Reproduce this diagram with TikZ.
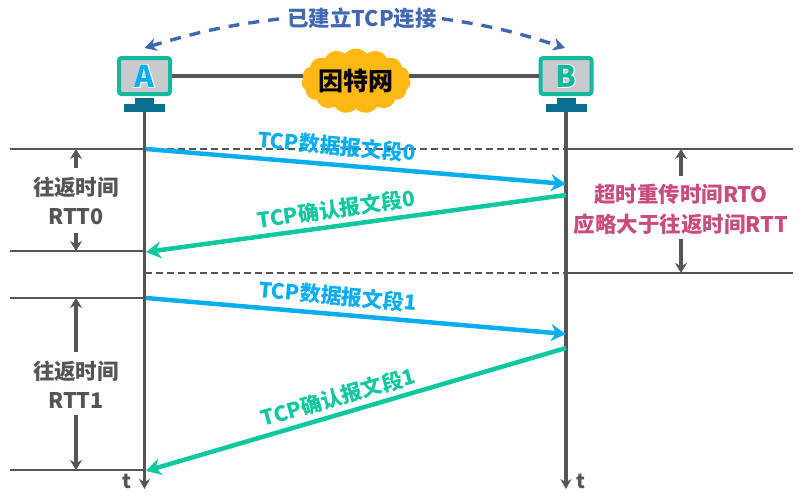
\documentclass[tikz,border=0pt]{standalone}
\usepackage{fontspec}
\setmainfont{Noto Sans CJK SC}
\newfontfamily\fatfont[FakeBold=5]{Noto Sans CJK SC}
\usetikzlibrary{arrows.meta,shapes.symbols}
\definecolor{tealhost}{HTML}{14B89C}
\definecolor{standblue}{HTML}{0B6E8E}
\definecolor{screengray}{HTML}{C9CACE}
\definecolor{lineblack}{HTML}{555555}
\definecolor{datablue}{HTML}{0AAEF0}
\definecolor{ackgreen}{HTML}{10C8A0}
\definecolor{linkblue}{HTML}{4068B0}
\definecolor{rtopink}{HTML}{C84C7C}
\definecolor{cloudgold}{HTML}{FDB813}
\newcommand{\hostletter}[2]{\rlap{\fatfont\color{white}#2}{\color{#1}#2}}
\tikzset{
  monitor/.style   = {draw=tealhost, line width=4pt, fill=screengray, rounded corners=2.5pt,
                      minimum width=51pt, minimum height=36pt, inner sep=0pt, font=\bfseries\fontsize{30}{30}\selectfont},
  standtop/.style  = {fill=standblue, minimum width=19pt, minimum height=7pt, inner sep=0pt},
  standbase/.style = {fill=standblue, minimum width=41pt, minimum height=8pt, inner sep=0pt},
  timeline/.style  = {-{Stealth[length=10pt,width=11pt]}, lineblack, line width=3.2pt},
  guide/.style     = {lineblack, line width=1.5pt},
  guidedash/.style = {lineblack, line width=1.5pt, dash pattern=on 7pt off 4pt},
  span/.style      = {-{Stealth[length=10pt,width=12pt]}, lineblack, line width=3.4pt},
  segment/.style   = {-{Stealth[length=15pt,width=17pt]}, line width=4.5pt},
  linkdash/.style  = {-{Stealth[length=12pt,width=13pt]}, linkblue, line width=3.4pt, dash pattern=on 11pt off 9pt},
  seglabel/.style  = {font=\bfseries\fontsize{21}{22}\selectfont, inner sep=0pt},
  graytext/.style  = {font=\bfseries\fontsize{21.5}{29}\selectfont, text=lineblack, align=center, inner sep=0pt}
}
\begin{document}
\begin{tikzpicture}[x=1pt, y=-1pt, >=Stealth]
  \useasboundingbox (0,0) rectangle (807,501);
  \node[monitor] (hostA) at (144.5,76) {\hostletter{datablue}{A}};
  \node[monitor] (hostB) at (566,76) {\hostletter{tealhost}{B}};
  \node[standtop] (topA) at (144.5,101) {};
  \node[standbase] (baseA) at (144.5,108) {};
  \node[standtop] (topB) at (566,101) {};
  \node[standbase] (baseB) at (566,108) {};
  \draw[lineblack, line width=4.5pt] (hostA) -- (hostB);
  \node[cloud, cloud puffs=15, cloud puff arc=100, aspect=1.9, fill=cloudgold, minimum width=86pt, minimum height=52pt, inner sep=0pt,
        font=\bfseries\fontsize{25}{25}\selectfont] (net) at (356,81) {因特网};
  % time axes
  \coordinate (endA) at (144.5,489);
  \coordinate (endB) at (566,489);
  \draw[timeline] (baseA.south) -- (endA);
  \draw[timeline] (baseB.south) -- (endB);
  \node[font=\bfseries\fontsize{20}{20}\selectfont, text=lineblack, inner sep=0pt] (tA) at (127,481) {t};
  \node[font=\bfseries\fontsize{20}{20}\selectfont, text=lineblack, inner sep=0pt] (tB) at (581,481) {t};
  % level lines
  \coordinate (l0) at (10,149);   \coordinate (a0) at (144.5,149);
  \coordinate (b0) at (566,149);  \coordinate (r0) at (793,149);
  \coordinate (l1) at (10,251);   \coordinate (a1) at (144.5,251);
  \coordinate (a2) at (144.5,273);\coordinate (b2) at (566,273);
  \coordinate (r2) at (793,273);
  \coordinate (l3) at (10,298);   \coordinate (a3) at (144.5,298);
  \coordinate (l4) at (10,470);   \coordinate (a4) at (144.5,470);
  \draw[guide] (l0) -- (a0);
  \draw[guidedash] (a0) -- (b0);
  \draw[guide] (b0) -- (r0);
  \draw[guide] (l1) -- (a1);
  \draw[guidedash] (a2) -- (b2);
  \draw[guide] (b2) -- (r2);
  \draw[guide] (l3) -- (a3);
  \draw[guide] (l4) -- (a4);
  % segments
  \coordinate (d0s) at (146,149);  \coordinate (d0e) at (566,184);
  \coordinate (k0s) at (566,195);  \coordinate (k0e) at (146,252);
  \coordinate (d1s) at (146,298);  \coordinate (d1e) at (566,334);
  \coordinate (k1s) at (566,348);  \coordinate (k1e) at (146,471);
  \draw[segment, datablue] (d0s) -- (d0e);
  \draw[segment, ackgreen] (k0s) -- (k0e);
  \draw[segment, datablue] (d1s) -- (d1e);
  \draw[segment, ackgreen] (k1s) -- (k1e);
  \node[seglabel, text=datablue, rotate=-5] (d0) at (337,146) {TCP数据报文段0};
  \node[seglabel, text=ackgreen, rotate=8] (k0) at (336,209) {TCP确认报文段0};
  \node[seglabel, text=datablue, rotate=-5] (d1) at (338,296) {TCP数据报文段1};
  \node[seglabel, text=ackgreen, rotate=16] (k1) at (338,397) {TCP确认报文段1};
  % round trip labels
  \node[graytext] (rtt0) at (76,201) {往返时间\\RTT0};
  \node[graytext] (rtt1) at (76,385) {往返时间\\RTT1};
  \node[font=\bfseries\fontsize{21.5}{30}\selectfont, text=rtopink, align=center, inner sep=0pt] (rto) at (681,209)
    {超时重传时间RTO\\应略大于往返时间RTT};
  \draw[span] (rtt0.north |- 0,168) -- (rtt0.north |- a0);
  \draw[span] (rtt0.south |- 0,233) -- (rtt0.south |- a1);
  \draw[span] (rtt1.north |- 0,352) -- (rtt1.north |- a3);
  \draw[span] (rtt1.south |- 0,415) -- (rtt1.south |- a4);
  \draw[span] (rto.north |- 0,176) -- (rto.north |- r0);
  \draw[span] (rto.south |- 0,239) -- (rto.south |- r2);
  % connection label
  \node[font=\bfseries\fontsize{21.5}{22}\selectfont, text=linkblue, inner sep=0pt] (conn) at (362,18) {已建立TCP连接};
  \coordinate (upA) at (144.5,48);
  \coordinate (upB) at (565,48);
  \draw[linkdash, shorten <=8pt] (conn.west) to[bend right=5] (upA);
  \draw[linkdash, shorten <=5pt] (conn.east) to[bend left=5] (upB);
\end{tikzpicture}
\end{document}
